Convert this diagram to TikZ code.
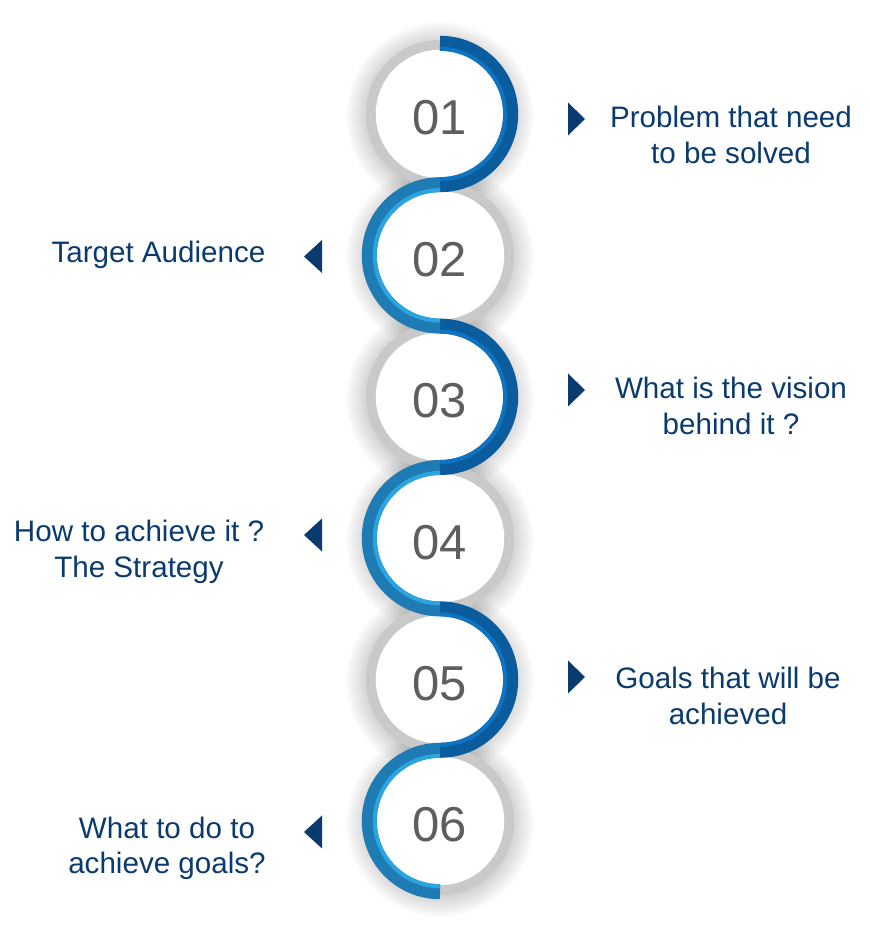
\documentclass[tikz,border=0pt]{standalone}
\usepackage{fontspec}
\setmainfont{Liberation Sans}
\definecolor{navy}{HTML}{0B3A6F}
\definecolor{numgray}{HTML}{5E5E5E}
\definecolor{ringgray}{HTML}{C9C9C9}
\definecolor{oddmain}{HTML}{0A5C9C}
\definecolor{oddlight}{HTML}{0C74C2}
\definecolor{evenmain}{HTML}{1F7BB3}
\definecolor{evenlight}{HTML}{2AA5DF}
\tikzset{
  num/.style={font=\fontsize{49}{49}\selectfont, text=numgray, inner sep=0pt},
  lbl/.style={font=\fontsize{29.6}{36}\selectfont, text=navy, align=center, inner sep=0pt, anchor=base},
  ring/.style={draw=ringgray, line width=10pt},
  band/.style={line width=15pt},
  stripe/.style={line width=4pt},
  pointer/.style={fill=navy},
}
\begin{document}
\begin{tikzpicture}[x=1pt,y=1pt]
\useasboundingbox (0,0) rectangle (870,929);
\fill[white] (0,0) rectangle (870,929);
% centres
\coordinate (c1) at (440,815);
\coordinate (c2) at (440,673.6);
\coordinate (c3) at (440,532.2);
\coordinate (c4) at (440,390.8);
\coordinate (c5) at (440,249.4);
\coordinate (c6) at (440,108);
% soft glow
\foreach \c in {1,...,6}{
  \foreach \r in {74,76,...,94}{
    \fill[black,opacity=0.016] ([yshift=-2pt]c\c) circle (\r);
  }
}
% grey rings and white discs
\foreach \c in {1,...,6}{
  \draw[ring] (c\c) circle (69);
  \fill[white] (c\c) circle (64.2);
}
% blue arcs
\foreach \c in {1,3,5}{
  \draw[band, draw=oddmain] ([yshift=70.7pt]c\c) arc (90:-90:70.7);
  \draw[stripe, draw=oddlight] ([yshift=65.2pt]c\c) arc (90:-90:65.2);
}
\foreach \c in {2,4,6}{
  \draw[band, draw=evenmain] ([yshift=70.7pt]c\c) arc (90:270:70.7);
  \draw[stripe, draw=evenlight] ([yshift=65.2pt]c\c) arc (90:270:65.2);
}
% numbers
\node[num] (n1) at ([yshift=-4pt]c1) {01};
\node[num] (n2) at ([yshift=-4pt]c2) {02};
\node[num] (n3) at ([yshift=-4pt]c3) {03};
\node[num] (n4) at ([yshift=-4pt]c4) {04};
\node[num] (n5) at ([yshift=-4pt]c5) {05};
\node[num] (n6) at ([yshift=-4pt]c6) {06};
% pointers
\fill[pointer] (568,826.5) -- (585,810) -- (568,793.5) -- cycle;
\fill[pointer] (322,689) -- (304,672.5) -- (322,656) -- cycle;
\fill[pointer] (568,555.5) -- (585,539) -- (568,522.5) -- cycle;
\fill[pointer] (322,410.5) -- (304,394) -- (322,377.5) -- cycle;
\fill[pointer] (568,268.5) -- (585,252) -- (568,235.5) -- cycle;
\fill[pointer] (322,113.5) -- (304,97) -- (322,80.5) -- cycle;
% labels (base = baseline of last line)
\node[lbl] (t1) at (731,765) {Problem that need\\to be solved};
\node[lbl] (t2) at (158.5,666) {Target Audience};
\node[lbl] (t3) at (731,494) {What is the vision\\behind it ?};
\node[lbl] (t4) at (139,351) {How to achieve it ?\\The Strategy};
\node[lbl] (t5) at (728,204) {Goals that will be\\achieved};
\node[lbl] (t6) at (167,55) {What to do to\\achieve goals?};
\end{tikzpicture}
\end{document}
